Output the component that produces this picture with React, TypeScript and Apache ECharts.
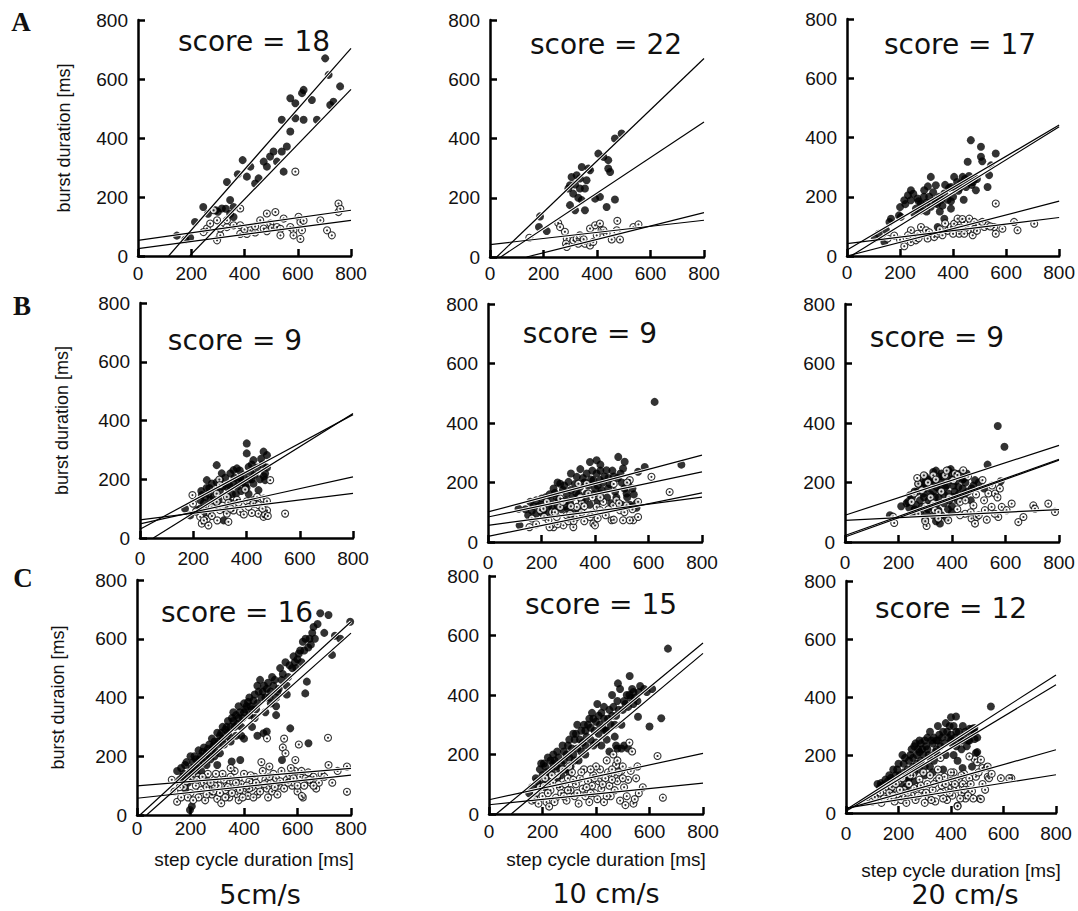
import React, { useEffect, useRef } from "react";
import * as echarts from "echarts";

// ---------- data ----------
const panelNames = ["A1", "A2", "A3", "B1", "B2", "B3", "C1", "C2", "C3"];
const scores = [18, 22, 17, 9, 9, 9, 16, 15, 12];
const rowLabels = ["A", "B", "C"];
const speedLabels = ["5cm/s", "10 cm/s", "20 cm/s"];
const yAxisNames = ["burst duration [ms]", "burst duration [ms]", "burst duraion [ms]"];
const xAxisName = "step cycle duration [ms]";

const filledA1 = [[146,69],[178,56],[196,62],[214,115],[245,166],[263,143],[292,155],[334,251],[315,161],[346,190],[359,166],[346,143],[359,132],[375,277],[393,325],[409,269],[422,303],[440,246],[453,263],[472,320],[484,303],[496,337],[509,354],[522,320],[547,286],[540,354],[559,371],[540,462],[572,422],[572,535],[591,518],[591,467],[616,552],[622,563],[622,462],[653,529],[672,462],[703,670],[716,614],[734,523],[722,512],[759,575],[300,150],[330,160]];
const openA1 = [[284,155],[297,121],[259,93],[246,81],[297,53],[309,70],[309,93],[334,98],[359,104],[334,121],[384,161],[384,104],[384,75],[409,75],[422,87],[440,80],[459,121],[472,93],[484,144],[497,110],[484,84],[503,95],[522,98],[516,149],[535,92],[535,70],[547,127],[572,98],[584,87],[591,286],[584,70],[603,133],[610,115],[616,87],[610,58],[622,120],[685,121],[710,87],[728,70],[753,178],[753,149],[760,160],[271,110],[440,100],[400,90]];
const linesA1 = [[[115,0],[800,704]],[[194,0],[800,565]],[[0,53],[800,155]],[[0,25],[800,121]]];

const filledA2 = [[187,137],[183,101],[212,88],[299,242],[293,231],[305,270],[324,276],[343,304],[368,299],[336,265],[311,214],[299,175],[318,158],[343,192],[336,231],[355,231],[361,259],[374,293],[355,158],[393,197],[411,203],[405,349],[424,338],[442,327],[442,299],[449,287],[436,169],[467,194],[467,400],[492,417],[318,245],[330,200]];
const openA2 = [[147,65],[255,115],[262,101],[280,85],[287,62],[284,45],[287,34],[312,56],[324,62],[336,73],[330,45],[355,45],[374,39],[386,51],[374,96],[393,107],[411,113],[417,90],[399,73],[436,79],[455,59],[474,90],[486,59],[476,122],[536,101],[555,110],[424,90],[350,60]];
const linesA2 = [[[25,0],[800,670]],[[40,0],[800,456]],[[0,42],[800,124]],[[137,0],[800,150]]];

const filledA3 = [[141,47],[166,126],[160,115],[147,87],[203,132],[216,188],[241,222],[241,188],[266,194],[279,177],[290,200],[316,267],[335,239],[316,166],[329,188],[340,175],[348,200],[367,211],[380,190],[392,233],[392,185],[404,267],[410,230],[430,245],[436,267],[449,233],[461,250],[467,391],[455,318],[480,261],[486,222],[505,369],[505,335],[510,320],[530,233],[536,273],[543,306],[561,346],[230,205],[279,154],[342,98],[367,126],[392,160],[440,190],[254,143],[196,137],[291,222],[305,235],[260,160],[300,180],[350,150],[420,220],[470,240],[120,75],[105,60],[200,165],[220,175],[250,210],[270,185],[285,165],[310,200],[325,215],[335,180],[355,190],[370,240],[385,230],[400,200],[415,250],[425,230],[445,260],[460,270],[475,250],[490,260],[360,170],[300,150]];
const openA3 = [[153,59],[178,69],[216,33],[241,87],[241,47],[260,53],[266,75],[279,98],[298,87],[304,59],[329,64],[342,75],[360,70],[380,85],[392,98],[404,109],[417,126],[423,75],[442,115],[455,87],[461,126],[474,70],[480,115],[499,109],[518,98],[530,104],[555,98],[561,177],[561,75],[586,92],[630,115],[643,87],[706,109],[480,90],[442,75],[200,55],[230,70],[270,60],[310,80],[350,90],[370,110],[400,75],[420,95],[435,125],[490,85],[510,115],[540,100]];
const linesA3 = [[[0,20],[800,442]],[[15,0],[800,436]],[[0,0],[800,185]],[[0,42],[800,130]]];

const filledB1 = [[169,100],[188,77],[226,129],[232,146],[251,197],[257,150],[288,248],[288,190],[276,140],[301,197],[307,220],[314,60],[326,94],[339,220],[351,231],[364,237],[351,185],[370,197],[376,205],[401,322],[401,288],[408,242],[426,265],[420,250],[426,185],[445,163],[464,294],[470,220],[477,282],[470,197],[477,240],[276,106],[251,83],[226,100],[288,110],[326,174],[395,180],[408,150],[426,129],[240,120],[260,170],[300,160],[330,140],[380,160],[420,200],[460,250],[215,95],[230,160],[245,140],[265,130],[270,185],[285,160],[295,130],[310,175],[320,205],[335,180],[345,150],[355,205],[365,175],[375,230],[385,190],[390,215],[400,170],[410,200],[415,225],[430,215],[440,240],[450,200],[455,270],[465,210],[250,170],[280,120],[310,100],[340,120],[360,150],[240,100]];
const openB1 = [[197,146],[199,117],[226,72],[232,49],[257,43],[251,65],[263,83],[298,199],[288,123],[326,140],[332,120],[326,83],[332,55],[351,94],[376,89],[395,165],[401,125],[408,106],[426,117],[445,112],[445,83],[464,134],[464,72],[477,94],[477,125],[489,197],[470,80],[545,83],[364,130],[288,151],[300,95],[350,115],[270,105],[210,90],[240,60],[270,75],[290,60],[310,110],[340,100],[370,120],[390,80],[420,85],[440,140],[460,100],[480,75],[300,180]];
const linesB1 = [[[50,0],[800,424]],[[0,30],[800,420]],[[0,48],[800,208]],[[0,62],[800,152]]];

const filledB2 = [[114,112],[118,56],[158,135],[164,105],[201,146],[207,107],[245,180],[257,150],[270,196],[294,163],[301,202],[307,130],[332,219],[344,185],[350,140],[369,230],[381,269],[406,275],[394,208],[406,230],[419,208],[419,163],[443,241],[449,180],[487,286],[505,247],[511,270],[561,236],[586,252],[623,471],[723,260],[518,163],[524,200],[537,118],[555,130],[369,163],[220,95],[319,95],[260,120],[280,175],[360,200],[400,180],[430,200],[470,220],[480,150],[230,160],[190,120],[150,90],[330,165],[390,240],[450,215],[500,200],[540,180],[140,110],[170,120],[180,95],[200,125],[215,150],[225,120],[235,140],[250,165],[265,140],[275,110],[285,190],[290,140],[310,175],[315,150],[325,195],[340,160],[355,215],[365,145],[375,190],[385,210],[395,160],[410,190],[420,240],[425,175],[435,220],[445,150],[455,195],[465,240],[475,170],[485,215],[495,230],[510,180],[520,150],[530,125],[545,160],[555,115],[300,110],[340,105],[380,125],[410,135],[460,130],[500,125],[240,115],[290,120],[200,100],[180,140],[260,200],[310,230],[345,245],[420,260]];
const openB2 = [[155,50],[164,79],[195,107],[207,112],[220,135],[226,73],[245,50],[257,84],[270,146],[282,56],[294,90],[307,95],[319,50],[332,84],[338,196],[350,129],[369,196],[381,84],[375,163],[394,62],[406,118],[419,107],[400,56],[431,135],[462,73],[468,123],[493,107],[505,73],[530,208],[518,123],[543,73],[561,135],[530,73],[561,84],[611,219],[679,168],[270,118],[332,118],[240,100],[300,70],[350,100],[440,90],[480,140],[260,60],[360,70],[180,60],[210,85],[230,50],[250,100],[280,135],[310,120],[320,70],[345,150],[360,120],[390,95],[410,80],[420,150],[450,110],[470,75],[490,130],[510,100],[520,200],[540,110],[470,195],[390,150]];
const linesB2 = [[[0,101],[800,292]],[[0,84],[800,236]],[[0,56],[800,151]],[[0,19],[800,165]]];

const filledB3 = [[168,90],[243,157],[236,135],[255,95],[261,107],[274,196],[280,140],[293,163],[305,95],[324,208],[336,151],[343,185],[349,107],[355,62],[361,230],[374,185],[386,241],[399,208],[405,151],[411,230],[424,185],[442,213],[449,163],[455,230],[473,180],[312,140],[287,118],[386,163],[571,390],[596,320],[533,260],[582,204],[486,208],[260,170],[300,220],[330,170],[350,150],[370,130],[400,120],[420,140],[440,180],[360,200],[380,220],[410,170],[290,180],[320,120],[340,240],[395,245],[230,130],[210,120],[330,90],[300,75],[240,115],[250,150],[265,125],[270,170],[285,200],[295,150],[305,180],[315,210],[320,160],[335,200],[345,130],[355,175],[365,220],[370,160],[380,190],[385,110],[390,140],[400,230],[405,190],[415,205],[425,160],[430,230],[440,150],[450,200],[460,170],[470,140],[480,190],[310,110],[340,70],[360,90],[380,80],[400,100],[280,100],[260,110],[350,220],[330,235],[300,200],[440,210],[500,200],[520,180]];
const openB3 = [[184,64],[180,85],[249,135],[258,163],[274,196],[295,224],[287,174],[305,54],[330,224],[336,107],[349,79],[374,224],[386,73],[405,208],[411,230],[430,135],[442,241],[449,95],[473,79],[480,123],[486,62],[492,84],[514,208],[523,107],[536,163],[548,118],[561,163],[579,180],[586,118],[573,84],[604,107],[623,129],[648,67],[667,84],[704,123],[710,112],[760,129],[785,101],[349,101],[274,95],[320,150],[360,170],[300,120],[420,110],[450,140],[270,215],[310,200],[340,210],[380,240],[420,225],[460,220],[300,70],[330,130],[390,150],[430,90],[470,100],[500,90],[530,75],[560,95],[490,160],[520,140],[550,190],[570,150]];
const linesB3 = [[[0,90],[800,325]],[[0,22],[800,278]],[[0,17],[800,275]],[[0,73],[800,109]]];

const filledC1 = [[150,150],[170,130],[180,170],[190,110],[200,200],[200,150],[210,180],[220,190],[220,140],[230,220],[230,170],[240,200],[250,230],[250,180],[260,210],[260,170],[270,240],[270,200],[280,220],[280,260],[290,250],[300,280],[300,240],[310,270],[320,300],[320,260],[330,290],[340,320],[340,280],[350,300],[360,350],[360,320],[370,340],[380,330],[380,370],[390,300],[400,350],[400,380],[410,370],[420,400],[420,340],[430,360],[440,410],[450,440],[450,380],[460,460],[470,420],[480,400],[490,450],[500,420],[510,440],[520,400],[530,430],[540,460],[560,410],[570,510],[580,500],[590,520],[600,530],[610,560],[620,590],[630,600],[640,570],[650,580],[660,640],[629,414],[635,454],[685,687],[716,681],[797,658],[729,545],[573,295],[641,244],[542,187],[485,284],[473,278],[354,182],[386,187],[198,17],[205,30],[300,170],[450,270],[400,260],[260,120],[430,300],[520,340],[480,350],[390,270],[310,210],[240,150],[160,120],[165,160],[175,140],[185,180],[195,140],[205,160],[215,200],[225,160],[235,190],[245,215],[255,195],[265,225],[275,190],[285,235],[295,215],[305,250],[315,280],[325,240],[335,300],[345,265],[355,330],[365,300],[375,310],[385,350],[395,330],[405,360],[415,385],[425,370],[435,390],[445,360],[455,420],[465,400],[475,440],[485,430],[495,400],[505,470],[515,460],[525,420],[535,500],[545,480],[555,520],[565,470],[585,540],[595,500],[605,550],[615,520],[625,560],[645,600],[655,620],[665,600],[675,650],[700,620],[740,610],[760,600],[180,90],[210,120],[290,200],[350,250],[370,270],[440,330],[500,380],[520,370],[560,440]];
const openC1 = [[130,120],[150,45],[165,60],[175,95],[185,115],[200,75],[210,130],[220,100],[230,60],[240,85],[250,110],[255,50],[265,140],[270,95],[280,70],[290,120],[300,55],[305,100],[315,40],[320,140],[330,85],[335,110],[345,60],[350,130],[360,95],[365,150],[375,70],[380,120],[390,105],[400,140],[405,80],[415,65],[420,115],[430,95],[440,130],[450,70],[455,100],[465,180],[470,150],[480,120],[485,90],[490,60],[495,165],[500,110],[505,80],[510,140],[520,125],[530,100],[540,150],[545,230],[550,260],[555,210],[560,120],[570,135],[580,100],[590,150],[600,80],[605,240],[610,130],[620,60],[630,125],[640,145],[650,110],[660,130],[670,90],[680,110],[714,263],[716,170],[785,165],[785,79],[592,187],[486,261],[420,90],[380,50],[290,100],[330,60],[350,160],[260,70],[230,130],[616,65],[140,80],[160,95],[190,60],[210,50],[225,120],[245,130],[260,95],[275,110],[285,80],[295,140],[310,75],[325,120],[340,95],[355,75],[370,110],[385,85],[395,60],[410,100],[425,135],[435,60],[445,110],[460,80],[475,105],[495,130],[515,95],[525,70],[535,115],[550,90],[565,110],[575,160],[585,125],[600,100],[615,150],[625,100],[645,120],[660,100],[690,140],[700,130],[730,110],[750,150]];
const linesC1 = [[[11,0],[800,658]],[[36,0],[800,619]],[[0,99],[800,159]],[[0,57],[800,136]]];

const filledC2 = [[170,60],[180,110],[190,150],[200,130],[205,170],[215,140],[220,110],[230,180],[235,150],[240,200],[250,160],[255,120],[260,190],[270,170],[280,210],[285,150],[295,230],[300,190],[305,160],[315,200],[320,250],[325,270],[330,220],[335,180],[345,280],[350,240],[355,300],[365,260],[375,320],[380,290],[385,340],[390,230],[400,310],[405,370],[410,270],[420,340],[425,290],[430,360],[440,250],[445,320],[455,300],[460,400],[470,260],[475,230],[480,380],[490,420],[500,350],[505,380],[515,400],[520,360],[530,390],[540,370],[560,410],[495,220],[505,230],[669,556],[526,464],[482,439],[644,322],[600,294],[557,327],[150,70],[210,90],[270,130],[300,140],[360,200],[420,230],[460,330],[450,210],[470,300],[540,410],[160,90],[175,120],[185,90],[195,170],[210,160],[220,190],[225,140],[245,180],[255,210],[265,150],[275,230],[290,200],[300,250],[310,220],[315,270],[330,300],[340,250],[345,210],[360,280],[370,300],[380,250],[390,320],[395,280],[410,330],[415,300],[430,320],[435,280],[450,350],[465,360],[475,330],[485,350],[495,300],[510,370],[525,400],[535,420],[545,390],[555,380],[565,430],[580,420],[590,410],[610,420],[520,220],[480,220],[440,280],[400,240],[360,230],[320,180],[280,180],[240,170],[200,100]];
const openC2 = [[160,45],[175,70],[190,90],[200,60],[210,120],[215,40],[225,25],[230,80],[240,105],[250,55],[255,130],[265,90],[270,70],[275,150],[285,100],[290,45],[295,120],[305,80],[310,140],[320,60],[325,100],[335,35],[340,120],[350,85],[355,150],[360,60],[370,110],[375,40],[385,95],[390,130],[395,70],[405,50],[410,110],[415,150],[420,85],[430,40],[435,120],[440,180],[445,140],[450,95],[455,60],[465,200],[470,130],[475,165],[480,110],[490,45],[495,145],[500,160],[505,90],[510,30],[520,115],[525,240],[535,210],[540,35],[545,50],[560,70],[575,90],[630,195],[650,55],[170,50],[185,35],[205,95],[220,70],[235,130],[245,40],[260,100],[280,60],[295,80],[300,160],[315,115],[330,70],[345,140],[365,90],[380,70],[395,120],[400,160],[425,100],[440,60],[460,115],[470,80],[485,140],[500,120],[515,60],[530,145],[550,120],[555,160],[480,180],[460,150],[380,150]];
const linesC2 = [[[27,0],[800,575]],[[83,0],[800,540]],[[0,48],[800,204]],[[0,31],[800,104]]];

const filledC3 = [[120,100],[140,95],[160,110],[170,80],[180,150],[190,130],[200,170],[210,100],[215,200],[220,140],[230,120],[240,180],[250,220],[255,160],[260,140],[265,240],[270,200],[280,250],[285,180],[290,220],[300,160],[305,230],[310,260],[315,200],[320,280],[330,240],[335,180],[340,210],[345,250],[350,300],[355,270],[360,230],[370,280],[380,310],[390,260],[400,330],[405,240],[410,200],[420,280],[425,180],[430,250],[440,220],[450,260],[460,230],[470,290],[475,275],[480,160],[490,255],[500,210],[552,367],[470,250],[300,130],[330,140],[370,150],[419,333],[489,293],[495,207],[444,155],[133,103],[171,121],[240,120],[280,150],[380,200],[400,270],[130,90],[150,115],[165,130],[175,110],[185,100],[195,150],[205,130],[220,170],[225,190],[235,150],[245,200],[255,190],[260,230],[270,170],[275,220],[285,240],[295,200],[300,250],[310,220],[320,190],[325,250],[335,260],[345,220],[350,250],[365,260],[375,240],[385,280],[395,300],[400,250],[410,300],[415,260],[430,280],[440,250],[445,300],[455,280],[465,250],[480,290],[490,280],[500,260],[230,90],[260,110],[320,160],[350,200],[280,210],[420,230]];
const openC3 = [[80,45],[100,40],[120,60],[135,35],[150,80],[160,50],[175,90],[185,40],[195,65],[200,110],[210,45],[220,80],[230,35],[240,100],[250,60],[255,130],[265,45],[270,90],[280,115],[290,70],[300,35],[310,100],[315,55],[320,130],[330,80],[340,40],[345,110],[350,150],[360,70],[365,95],[375,125],[385,45],[390,85],[400,110],[405,60],[410,140],[420,85],[425,25],[430,115],[440,70],[445,100],[450,135],[455,50],[460,90],[470,120],[480,75],[490,185],[500,175],[520,155],[540,125],[590,120],[630,120],[510,50],[360,190],[470,195],[514,184],[537,158],[545,120],[622,120],[514,48],[425,23],[110,55],[130,70],[145,50],[165,70],[180,60],[190,100],[205,80],[215,120],[225,55],[235,70],[245,130],[260,85],[275,60],[285,95],[295,140],[305,70],[325,45],[335,100],[355,120],[370,50],[380,100],[395,70],[415,100],[435,50],[450,80],[465,60],[475,100],[485,50],[495,125],[505,140],[520,100],[530,80],[540,160],[555,135],[400,140],[440,130]];
const linesC3 = [[[0,11],[800,476]],[[0,6],[800,442]],[[0,14],[800,218]],[[0,17],[800,132]]];

const filledSets = [filledA1, filledA2, filledA3, filledB1, filledB2, filledB3, filledC1, filledC2, filledC3];
const openSets = [openA1, openA2, openA3, openB1, openB2, openB3, openC1, openC2, openC3];
const lineSets = [linesA1, linesA2, linesA3, linesB1, linesB2, linesB3, linesC1, linesC2, linesC3];

// ---------- layout (pixels) ----------
const gridBoxes = [
  { l: 138, r: 351, t: 20, b: 256 },
  { l: 490, r: 704, t: 20, b: 257 },
  { l: 847, r: 1060, t: 19, b: 256 },
  { l: 140, r: 353, t: 303, b: 538 },
  { l: 488, r: 702, t: 304, b: 542 },
  { l: 845, r: 1059, t: 304, b: 542 },
  { l: 137, r: 351, t: 580, b: 815 },
  { l: 489, r: 703, t: 576, b: 814 },
  { l: 846, r: 1056, t: 581, b: 813 },
];
const xLabelMargins = [8, 7, 7, 11, 11, 11, 4, 8, 11];
const xNameGaps = [0, 0, 0, 0, 0, 0, 35, 36, 48];
const yNameGaps = [65, 69, 70];
const scorePos = [[254, 41], [606, 44], [960, 44], [235, 340], [590, 333], [937, 337], [237, 612], [601, 604], [951, 608]];
const rowLabelPos = [[21, 22], [22, 306], [23, 578]];
const speedPos = [[260, 894], [606, 893], [965, 894]];

const TICK_FONT = '"Liberation Sans", Arial, Helvetica, sans-serif';
const WIDE_FONT = '"DejaVu Sans", Verdana, sans-serif';

function buildOption() {
  const grid: any[] = [];
  const xAxis: any[] = [];
  const yAxis: any[] = [];
  const series: any[] = [];
  const axisCommon = {
    type: "value",
    min: 0,
    max: 800,
    interval: 200,
    splitLine: { show: false },
    axisLine: { show: true, lineStyle: { color: "#000", width: 2.5 } },
    axisTick: { show: true, inside: true, length: 7, lineStyle: { color: "#000", width: 2.5 } },
    z: 6,
  };
  panelNames.forEach((name, i) => {
    const g = gridBoxes[i];
    const row = Math.floor(i / 3);
    const col = i % 3;
    grid.push({ left: g.l, top: g.t, width: g.r - g.l, height: g.b - g.t });
    xAxis.push({
      ...axisCommon,
      gridIndex: i,
      axisLabel: { margin: xLabelMargins[i], fontFamily: TICK_FONT, fontSize: 19, color: "#111" },
      name: row === 2 ? xAxisName : "",
      nameLocation: "middle",
      nameGap: xNameGaps[i],
      nameTextStyle: { fontFamily: TICK_FONT, fontSize: 19, color: "#111", padding: [0, 0, 0, 20] },
    });
    yAxis.push({
      ...axisCommon,
      gridIndex: i,
      axisLabel: { margin: 10, fontFamily: TICK_FONT, fontSize: 19, color: "#111" },
      name: col === 0 ? yAxisNames[row] : "",
      nameLocation: "middle",
      nameGap: col === 0 ? yNameGaps[row] : 0,
      nameTextStyle: { fontFamily: TICK_FONT, fontSize: 18, color: "#111" },
    });
    series.push({
      name: name + " filled",
      type: "scatter",
      xAxisIndex: i,
      yAxisIndex: i,
      data: filledSets[i],
      symbol: "circle",
      symbolSize: 8,
      itemStyle: { color: "#000" },
      silent: true,
      z: 2,
    });
    series.push({
      name: name + " open",
      type: "scatter",
      xAxisIndex: i,
      yAxisIndex: i,
      data: openSets[i],
      symbol: "circle",
      symbolSize: 7,
      itemStyle: { color: "#fff", borderColor: "#000", borderWidth: 1.1 },
      silent: true,
      z: 3,
    });
    series.push({
      name: name + " open dot",
      type: "scatter",
      xAxisIndex: i,
      yAxisIndex: i,
      data: openSets[i],
      symbol: "circle",
      symbolSize: 2.2,
      itemStyle: { color: "#000" },
      silent: true,
      z: 3,
    });
    lineSets[i].forEach((ln, k) => {
      series.push({
        name: name + " fit casing " + k,
        type: "line",
        xAxisIndex: i,
        yAxisIndex: i,
        data: ln,
        symbol: "none",
        lineStyle: { color: "#fff", width: 3 },
        silent: true,
        z: 4,
      });
      series.push({
        name: name + " fit " + k,
        type: "line",
        xAxisIndex: i,
        yAxisIndex: i,
        data: ln,
        symbol: "none",
        lineStyle: { color: "#000", width: 1.2 },
        silent: true,
        z: 5,
      });
    });
  });

  const graphic: any[] = [];
  const mkText = (text: string, x: number, y: number, font: string) => ({
    type: "text",
    x,
    y,
    style: {
      text,
      font,
      fill: "#111",
      align: "center",
      verticalAlign: "middle",
      textAlign: "center",
      textVerticalAlign: "middle",
    },
  });
  scores.forEach((s, i) => {
    graphic.push(mkText("score = " + s, scorePos[i][0], scorePos[i][1], `28px ${WIDE_FONT}`));
  });
  rowLabels.forEach((t, r) => {
    graphic.push(mkText(t, rowLabelPos[r][0], rowLabelPos[r][1], `bold 27px "Liberation Serif", "Times New Roman", serif`));
  });
  speedLabels.forEach((t, c) => {
    graphic.push(mkText(t, speedPos[c][0], speedPos[c][1], `27px ${WIDE_FONT}`));
  });

  return {
    animation: false,
    backgroundColor: "#fff",
    grid,
    xAxis,
    yAxis,
    series,
    graphic,
  };
}

export default function App() {
  const ref = useRef<HTMLDivElement>(null);
  useEffect(() => {
    if (!ref.current) return;
    const chart = echarts.init(ref.current, null, { renderer: "svg" });
    chart.setOption(buildOption());
    return () => chart.dispose();
  }, []);
  return (
    <div
      ref={ref}
      style={{ position: "absolute", left: 0, top: 0, width: 1078, height: 911, background: "#fff" }}
    />
  );
}
